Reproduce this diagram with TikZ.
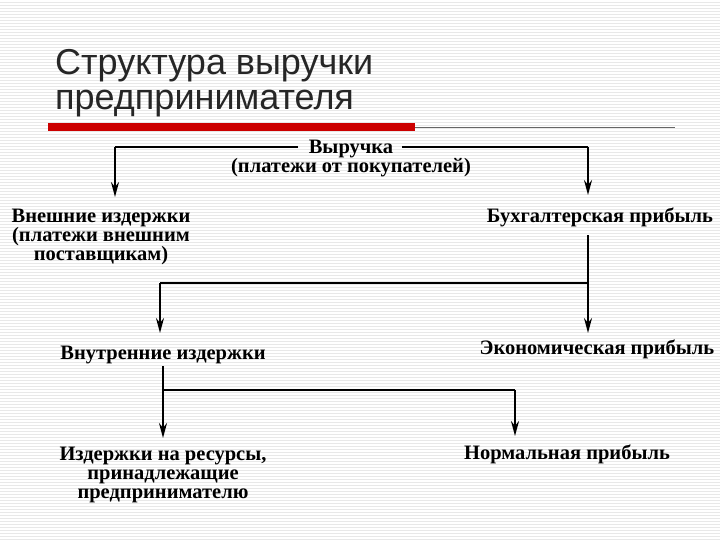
\documentclass[tikz,border=0pt]{standalone}
\usepackage{fontspec}
\setmainfont{Liberation Serif}
\newfontfamily\titlefont{Liberation Sans}
\usetikzlibrary{arrows.meta}
\begin{document}
\begin{tikzpicture}[x=1pt,y=-1pt,
  lbl/.style={font=\fontsize{20.5}{19}\selectfont\bfseries, align=center, inner sep=1pt},
  conn/.style={line width=1.8pt},
  arr/.style={line width=1.8pt,-{Stealth[length=15pt,width=8pt]}}]
\useasboundingbox (0,0) rectangle (720,540);
\fill[white] (0,0) rectangle (720,540);
\foreach \y in {2,5,...,539} \draw[black!9,line width=0.6pt] (0,\y) -- (720,\y);
\node[anchor=base west,inner sep=0pt,font=\titlefont\fontsize{36}{40}\selectfont,text=black!85] (title) at (55,75) {Структура выручки};
\node[anchor=base west,inner sep=0pt,font=\titlefont\fontsize{36}{40}\selectfont,text=black!85] (title2) at (55,110) {предпринимателя};
\fill[red!80!black] (48,123) rectangle (415,131);
\draw[black!60,line width=0.8pt] (415,127) -- (675,127);

\node[lbl] (rev) at (351,159) {Выручка\\(платежи от покупателей)};
\node[lbl] (ext) at (101,237) {Внешние издержки\\(платежи внешним\\поставщикам)};
\node[lbl] (acc) at (600,217) {Бухгалтерская прибыль};
\node[lbl] (int) at (163,355) {Внутренние издержки};
\node[lbl] (eco) at (597,349) {Экономическая прибыль};
\node[lbl] (res) at (163,475) {Издержки на ресурсы,\\принадлежащие\\предпринимателю};
\node[lbl] (norm) at (567,454) {Нормальная прибыль};

\coordinate (a0) at (298,147); \coordinate (a3) at (402,147);
\coordinate (a1) at (115,147); \coordinate (a2) at (588,147);
\coordinate (b1) at (588,283); \coordinate (b2) at (160,283);
\coordinate (c1) at (163,390); \coordinate (c2) at (515,390);

\draw[conn] (a0) -- (a1);
\draw[arr] (a1) -- (115,197);
\draw[conn] (a3) -- (a2);
\draw[arr] (a2) -- (588,195);
\draw[arr] (588,235) -- (588,333);
\draw[conn] (b1) -- (b2);
\draw[arr] (b2) -- (160,333);
\draw[arr] (163,366) -- (163,438);
\draw[conn] (c1) -- (c2);
\draw[arr] (c2) -- (515,436);
\end{tikzpicture}
\end{document}
